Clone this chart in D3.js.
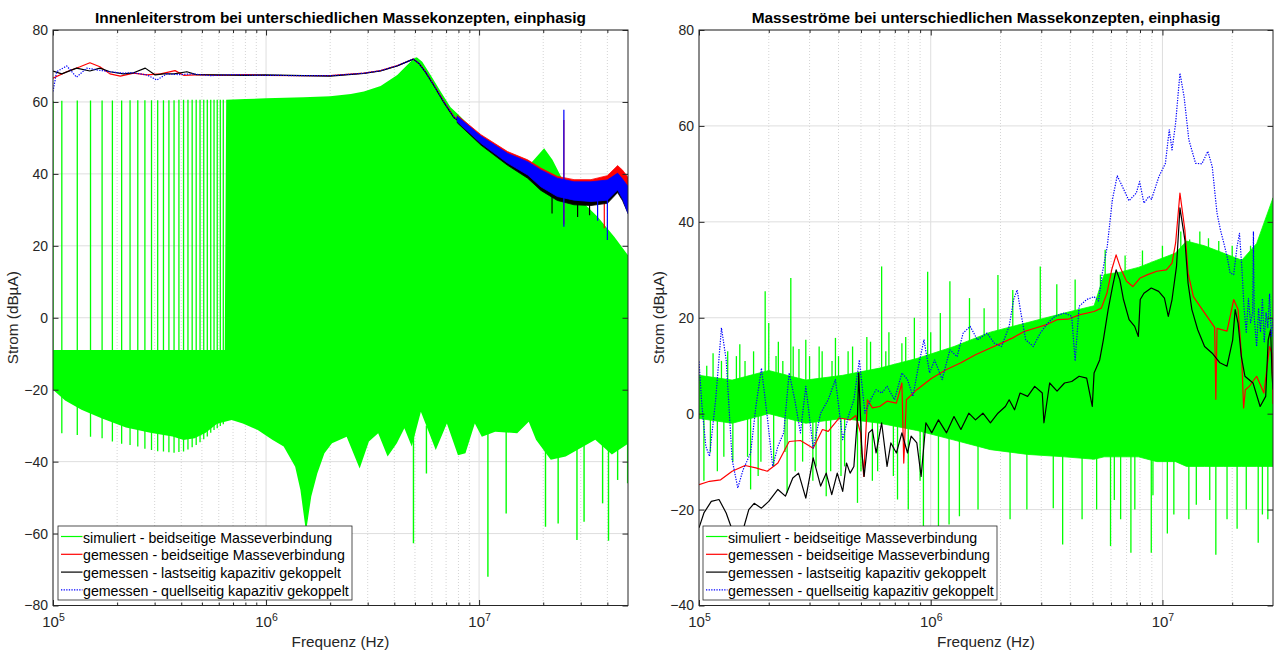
<!DOCTYPE html>
<html>
<head>
<meta charset="utf-8">
<script src="https://cdn.jsdelivr.net/npm/d3@7"></script>
<style>
  body { margin: 0; background: #fff; }
  svg text { font-family: "Liberation Sans", Arial, Helvetica, sans-serif; fill: #262626; }
</style>
</head>
<body>
<svg id="chart" width="1277" height="653"></svg>
<script>
// ---------- linkes Diagramm: Innenleiterstrom ----------
// simuliert: Kammlinien bei niedrigen Frequenzen [f, unten, oben]
const innerSimComb = [
  [1.0e5, -20, 60.3], [1.1e5, -32.1, 60.3], [1.3e5, -32.6, 60.4], [1.5e5, -33.1, 60.4],
  [1.7e5, -33.5, 60.4], [1.9e5, -34.4, 60.4], [2.1e5, -35, 60.4], [2.3e5, -35.4, 60.5],
  [2.5e5, -35.8, 60.5], [2.7e5, -36.4, 60.5], [2.9e5, -36.8, 60.5], [3.1e5, -37.1, 60.5],
  [3.3e5, -37.2, 60.5], [3.5e5, -37.4, 60.5], [3.7e5, -37.5, 60.5], [3.9e5, -37.3, 60.6],
  [4.1e5, -37.2, 60.6], [4.3e5, -36.6, 60.6], [4.5e5, -36, 60.6], [4.7e5, -35.4, 60.6],
  [4.9e5, -34.6, 60.6], [5.1e5, -33.8, 60.6], [5.3e5, -33, 60.6], [5.5e5, -32, 60.6],
  [5.7e5, -31.2, 60.6], [5.9e5, -30.7, 60.6], [6.1e5, -30.1, 60.6], [6.3e5, -29.6, 60.6]
];
// simuliert: obere und untere Huellkurve des dichten Spektrums [f, dBuA]
const innerSimUpper = [
  [1.0e5, -9], [6.4e5, -9], [6.5e5, 60.6], [8e5, 60.8], [1e6, 61.0], [1.5e6, 61.3],
  [2.0e6, 61.6], [2.5e6, 62.2], [2.88e6, 62.9], [3.45e6, 64.4], [4.13e6, 67.5], [4.6e6, 70.3],
  [4.94e6, 72.1], [5.1e6, 72.4], [5.41e6, 71.2], [5.92e6, 67.5], [6.6e6, 62.9], [7.35e6, 58.5],
  [7.9e6, 56.8], [1e7, 50.8], [1.17e7, 46.5], [1.36e7, 43], [1.57e7, 41], [1.72e7, 42.5],
  [2.02e7, 47.1], [2.21e7, 43.9], [2.47e7, 38.3], [3.0e7, 32.7], [3.6e7, 28.1], [4.31e7, 22.5],
  [5e7, 17.4]
];
const innerSimLower = [
  [1.0e5, -20], [1.14e5, -23], [1.36e5, -25.6], [1.7e5, -28], [2.2e5, -30.5], [2.86e5, -32],
  [3.64e5, -33], [4.1e5, -34], [4.62e5, -33.5], [5.21e5, -32], [5.89e5, -29.5], [6.9e5, -28.4],
  [7.78e5, -29.4], [9.14e5, -31.2], [1.07e6, -33.9], [1.21e6, -35.8], [1.37e6, -41.4],
  [1.45e6, -47.9], [1.54e6, -59.5], [1.63e6, -49.7], [1.74e6, -43.3], [1.88e6, -37.7],
  [2.04e6, -34.9], [2.39e6, -33.1], [2.75e6, -41.9], [3.04e6, -34.4], [3.36e6, -32.1],
  [3.72e6, -38.6], [4.11e6, -34.9], [4.46e6, -30.7], [4.83e6, -35.8], [5.33e6, -26.1],
  [6.26e6, -36.8], [7.06e6, -29.4], [7.96e6, -38.2], [8.63e6, -37.7], [9.55e6, -29.4],
  [1.03e7, -33.1], [1.19e7, -31.7], [1.51e7, -32.1], [1.71e7, -28.9], [1.85e7, -33.9],
  [2.17e7, -39.5], [2.55e7, -38.6], [3.51e7, -33.9], [4.2e7, -38], [5e7, -35]
];
// simuliert: schmale Einbrueche nach unten [f, unten, oben]
const innerSimNotches = [
  [4.92e6, -62.7, -30], [5.66e6, -43.3, -30], [1.1e7, -72.0, -30], [1.34e7, -54.4, -30],
  [2.05e7, -58.1, -30], [2.35e7, -57.2, -30], [2.88e7, -61.8, -30], [3.11e7, -56.7, -30],
  [3.8e7, -51.6, -30], [4.05e7, -62, -30], [4.47e7, -45.1, -30], [4.98e7, -46, -30]
];

// gemessen - beidseitige Masseverbindung
const innerRed = [
  [1.0e5, 66.6], [1.16e5, 68.4], [1.34e5, 69.8], [1.49e5, 70.9], [1.66e5, 69.8], [1.85e5, 67.8],
  [2.07e5, 67.2], [2.39e5, 68.0], [2.76e5, 67.5], [3.2e5, 67.8], [3.74e5, 68.7], [4.1e5, 67.4],
  [5e5, 67.6], [6e5, 67.4], [8e5, 67.6], [1e6, 67.4], [1.5e6, 67.3], [2e6, 67.3], [2.88e6, 68.0],
  [3.45e6, 68.7], [4.13e6, 70.1], [4.6e6, 71.2], [4.91e6, 71.9], [5.22e6, 70.7], [5.61e6, 68.4],
  [6.14e6, 64.7], [6.84e6, 60.1], [7.62e6, 55.9], [7.9e6, 55.2]
];
const innerRedBand = [
  [7.9e6, 54.8, 56.3], [1.02e7, 48.8, 50.9], [1.36e7, 43.5, 46.2], [1.69e7, 40, 43.9],
  [1.95e7, 37, 41.6], [2.33e7, 34, 39.3], [2.79e7, 33, 38.4], [3.35e7, 33, 38.4],
  [4.0e7, 34, 39.5], [4.47e7, 37, 42.3], [4.72e7, 36, 41], [5e7, 33, 39]
];
const innerRedSpikes = [[2.5e7, 26, 55], [3.87e7, 24.9, 34]];

// gemessen - lastseitig kapazitiv gekoppelt
const innerBlack = [
  [1.0e5, 68.6], [1.1e5, 67.8], [1.29e5, 69.4], [1.49e5, 68.6], [1.66e5, 69.4], [1.85e5, 68.4],
  [2.14e5, 67.8], [2.39e5, 68.1], [2.71e5, 69.4], [3.02e5, 67.5], [3.3e5, 67.8], [3.7e5, 67.8],
  [4.25e5, 68.4], [4.7e5, 67.6], [6e5, 67.5], [8e5, 67.4], [1e6, 67.5], [1.5e6, 67.3], [2e6, 67.2],
  [2.88e6, 67.9], [3.45e6, 68.6], [4.13e6, 70.0], [4.6e6, 71.2], [4.91e6, 71.9], [5.22e6, 70.7],
  [5.61e6, 68.2], [6.14e6, 64.5], [6.84e6, 59.8], [7.62e6, 55.6], [7.9e6, 55]
];
const innerBlackBand = [
  [7.9e6, 54.2, 55.8], [1.02e7, 48, 50], [1.36e7, 42.4, 45], [1.69e7, 38.8, 42.5],
  [1.95e7, 35.4, 40.5], [2.33e7, 32.6, 38], [2.79e7, 31.4, 37], [3.35e7, 31.2, 37],
  [4.0e7, 31.8, 38], [4.47e7, 34.8, 40], [4.72e7, 32.5, 38], [5e7, 29, 36]
];
const innerBlackSpikes = [[2.2e7, 29, 35], [2.9e7, 28, 33], [3.3e7, 28.5, 33]];

// gemessen - quellseitig kapazitiv gekoppelt
const innerBlue = [
  [1.0e5, 62.9], [1.04e5, 68.4], [1.16e5, 70.0], [1.29e5, 66.9], [1.44e5, 69.4], [1.61e5, 68.9],
  [1.85e5, 68.4], [2.1e5, 68.0], [2.39e5, 68.1], [2.76e5, 67.5], [3.07e5, 66.1], [3.42e5, 67.8],
  [3.9e5, 67.6], [4.5e5, 67.8], [5.5e5, 67.3], [7e5, 67.6], [1e6, 67.4], [1.5e6, 67.3], [2e6, 67.3],
  [2.88e6, 68.0], [3.45e6, 68.7], [4.13e6, 70.1], [4.6e6, 71.2], [4.91e6, 71.9], [5.22e6, 70.7],
  [5.61e6, 68.3], [6.14e6, 64.6], [6.84e6, 60.0], [7.62e6, 55.8], [7.9e6, 55.1]
];
const innerBlueBand = [
  [7.9e6, 54.5, 56], [1.02e7, 48.5, 50.5], [1.36e7, 43, 45.7], [1.69e7, 39.7, 43.4],
  [1.95e7, 36.4, 41.1], [2.33e7, 33.7, 38.8], [2.79e7, 32.7, 37.8], [3.35e7, 32.3, 37.8],
  [4.0e7, 32.7, 38.3], [4.47e7, 35.5, 40.2], [4.72e7, 33, 38.5], [5e7, 29, 36.5]
];
const innerBlueSpikes = [[2.5e7, 25.3, 57.8], [4.0e7, 21.6, 33], [3.6e7, 27, 33]];

// ---------- rechtes Diagramm: Massestroeme ----------
// simuliert: dichter Kern [f, unten, oben] und einzelne Ausreisser [f, unten, oben]
const massSimCore = [
  [1.0e5, -1, 8], [1.39e5, -2, 7], [2.0e5, 0, 9], [2.89e5, -2, 7], [4.17e5, -1, 8],
  [6.02e5, -2, 9.5], [8.71e5, -3.5, 11.5], [1.26e6, -5.5, 14], [1.81e6, -7.5, 17], [2.62e6, -8.5, 19],
  [3.78e6, -9, 21], [5.07e6, -9.5, 22.5], [5.6e6, -9, 29], [6.55e6, -9, 29.5], [7.87e6, -9, 30.5],
  [9.46e6, -10, 32], [1.14e7, -10, 33.5], [1.27e7, -11, 36], [1.52e7, -11, 35],
  [1.83e7, -11, 33.5], [2.2e7, -11, 32], [2.55e7, -11, 35.5], [3.0e7, -11, 45]
];
const massSimSpikes = [
  [1.05e5, -14, 0], [1.08e5, 0, 10], [1.12e5, -8, 0], [1.15e5, 0, 12.6], [1.2e5, -12, 0],
  [1.25e5, 0, 11], [1.28e5, -9, 0], [1.33e5, 0, 13], [1.4e5, -10, 0], [1.45e5, 0, 12],
  [1.5e5, 0, 14.5], [1.58e5, 0, 11], [1.62e5, -9, 0], [1.67e5, -15.8, 0], [1.72e5, 0, 13],
  [1.8e5, -13, 0], [1.85e5, -10, 0], [1.93e5, 0, 25.5], [2.0e5, 0, 18.9], [2.1e5, -11, 0],
  [2.15e5, 0, 12], [2.2e5, 0, 15], [2.3e5, 0, 11], [2.35e5, -8, 0], [2.4e5, -16.5, 0],
  [2.49e5, 0, 28.3], [2.55e5, 0, 14], [2.6e5, -12, 0], [2.7e5, 0, 13.5], [2.8e5, -10, 0],
  [2.89e5, 0, 15.4], [3.0e5, 0, 12], [3.1e5, -14, 0], [3.2e5, -11, 0], [3.3e5, 0, 14],
  [3.4e5, 0, 13], [3.54e5, -17.2, 0], [3.7e5, -12, 0], [3.75e5, 0, 11], [3.88e5, 0, 15.8],
  [4.0e5, 0, 12], [4.1e5, -13, 0], [4.25e5, -11, 0], [4.4e5, 0, 13], [4.6e5, 0, 14],
  [4.83e5, -18.6, 0], [5.0e5, -12, 0], [5.3e5, 0, 16], [5.5e5, 0, 15], [5.6e5, -14, 0],
  [5.9e5, -12, 0], [6.14e5, 0, 30.7], [6.4e5, 0, 13], [6.6e5, 0, 17], [6.9e5, -13, 0],
  [7.19e5, -17.9, 0], [7.51e5, 0, 14.7], [7.8e5, 0, 16], [8.0e5, -20, 0], [8.5e5, 0, 20],
  [9.0e5, -14, 0], [9.3e5, -28.3, 0], [9.7e5, 0, 29.6], [1.0e6, 0, 17], [1.08e6, -23.5, 0],
  [1.1e6, 0, 21], [1.2e6, -23.1, 0], [1.21e6, 0, 27.6], [1.33e6, -21.4, 0], [1.47e6, 0, 24.1],
  [1.6e6, -20, 0], [1.7e6, 0, 22], [1.95e6, 0, 28.9], [2.2e6, -22, 0], [2.26e6, 0, 25.8],
  [2.6e6, -20, 0], [2.97e6, 0, 30.7], [3.38e6, -19.7, 0], [3.5e6, 0, 27], [3.71e6, -27.3, 0],
  [4.2e6, 0, 28], [4.5e6, -22, 0], [5.2e6, -20, 0], [5.4e6, 0, 29], [5.66e6, 0, 34.2],
  [5.97e6, -27.6, 0], [6.2e6, -18, 0], [6.6e6, -22, 0], [6.9e6, 0, 33], [7.31e6, -29.0, 0],
  [7.6e6, -20, 0], [8.2e6, 0, 34], [8.95e6, -29, 0], [9.1e6, -17, 0], [1.0e7, 0, 35],
  [1.05e7, -25, 0], [1.12e7, -21, 0], [1.2e7, 0, 38], [1.3e7, -22, 0], [1.31e7, 0, 36.3],
  [1.4e7, -19, 0], [1.45e7, 0, 38], [1.58e7, 0, 36.6], [1.6e7, -18, 0], [1.7e7, -29.4, 0],
  [1.75e7, 0, 36], [1.9e7, -22, 0], [2.0e7, 0, 35], [2.1e7, -24, 0], [2.3e7, -20, 0],
  [2.4e7, 0, 35], [2.59e7, -26.9, 0], [2.7e7, -21, 0], [2.8e7, 0, 40], [2.85e7, -22, 0]
];

const massRed = [
  [1.0e5, -14.8], [1.11e5, -14.1], [1.24e5, -13.8], [1.39e5, -12.0], [1.58e5, -10.8], [1.76e5, -11.3],
  [1.97e5, -12.0], [2.19e5, -10.3], [2.45e5, -5.8], [2.74e5, -5.6], [3.11e5, -7.2], [3.41e5, -3.3],
  [3.61e5, -3.7], [4.03e5, -0.9], [4.49e5, -1.3], [4.75e5, -0.4], [4.98e5, -4.0], [5.14e5, -13.1],
  [5.33e5, 2.9], [5.6e5, 1.2], [6.02e5, 1.5], [6.48e5, 2.6], [7.11e5, 2.2], [7.51e5, 6.4],
  [7.65e5, -10.3], [7.85e5, 2.9], [8.71e5, 5.0], [1.01e6, 7.4], [1.17e6, 9.2], [1.35e6, 10.6],
  [1.56e6, 12.3], [1.81e6, 13.7], [2.02e6, 14.7], [2.26e6, 15.8], [2.52e6, 17.1], [2.81e6, 17.8],
  [3.14e6, 18.5], [3.51e6, 19.6], [3.92e6, 19.7], [4.37e6, 20.6], [5.07e6, 21.3], [5.45e6, 22.0],
  [5.76e6, 25.1], [6.04e6, 30.0], [6.31e6, 33.1], [6.6e6, 30.3], [7.0e6, 27.6], [7.45e6, 26.5],
  [8.02e6, 28.3], [8.63e6, 29.0], [9.46e6, 29.7], [1.04e7, 30.0], [1.1e7, 31.4], [1.14e7, 35.6],
  [1.19e7, 46.0], [1.25e7, 38.3], [1.29e7, 29.3], [1.36e7, 24.4], [1.52e7, 21.0], [1.68e7, 18],
  [1.7e7, 3], [1.72e7, 17.8], [1.9e7, 17.2], [2.03e7, 23.8], [2.12e7, 21.7], [2.2e7, 11.3],
  [2.24e7, 1.2], [2.28e7, 5.0], [2.37e7, 5.7], [2.55e7, 7.8], [2.74e7, 4.3], [2.9e7, 14.0],
  [2.97e7, 12.6], [3.0e7, 2]
];

const massBlack = [
  [1.0e5, -23.8], [1.05e5, -20.7], [1.13e5, -18.3], [1.22e5, -17.9], [1.31e5, -20.7], [1.39e5, -24.2],
  [1.47e5, -27.6], [1.55e5, -24.2], [1.64e5, -20.0], [1.73e5, -18.7], [1.86e5, -19.7], [2.0e5, -18.3],
  [2.19e5, -15.8], [2.36e5, -17.2], [2.54e5, -13.4], [2.69e5, -12.4], [2.89e5, -17.6], [3.11e5, -9.2],
  [3.35e5, -15.1], [3.54e5, -12.4], [3.74e5, -16.9], [3.95e5, -12.4], [4.17e5, -16.2], [4.33e5, -10.3],
  [4.49e5, -12.4], [4.66e5, -11.0], [4.83e5, -0.6], [4.89e5, 8.5], [5.05e5, -8.2], [5.16e5, -13.1],
  [5.4e5, -4.0], [5.6e5, -3.3], [5.81e5, -8.2], [6.14e5, -1.9], [6.48e5, -11.0], [6.73e5, -6.1],
  [7.11e5, -8.2], [7.51e5, -4.0], [7.94e5, -8.2], [8.23e5, -4.7], [8.71e5, -6.1], [9.09e5, -13.1],
  [9.53e5, -1.9], [1.01e6, -4.0], [1.08e6, -1.3], [1.17e6, -4.0], [1.26e6, -0.6], [1.35e6, -3.3],
  [1.46e6, 0.1], [1.56e6, -1.3], [1.68e6, 0.1], [1.81e6, -1.9], [1.95e6, 0.1], [2.1e6, 1.5],
  [2.18e6, 2.9], [2.3e6, 0.8], [2.43e6, 4.3], [2.62e6, 3.6], [2.81e6, 5.7], [3.03e6, 4.3],
  [3.08e6, -1.9], [3.26e6, 6.4], [3.51e6, 4.7], [3.78e6, 6.4], [4.06e6, 6.7], [4.37e6, 7.8],
  [4.71e6, 7.4], [4.98e6, 1.5], [5.07e6, 8.5], [5.36e6, 11.2], [5.56e6, 15.4], [5.83e6, 21.7],
  [6.09e6, 26.5], [6.31e6, 30.0], [6.55e6, 27.9], [6.79e6, 23.8], [7.18e6, 19.6], [7.59e6, 18.2],
  [7.87e6, 16.1], [8.02e6, 23.8], [8.32e6, 25.1], [8.95e6, 26.2], [9.63e6, 25.5], [1.02e7, 24.1],
  [1.06e7, 20.3], [1.1e7, 23.8], [1.15e7, 30.7], [1.19e7, 42.9], [1.25e7, 36.2], [1.29e7, 27.2],
  [1.34e7, 21.7], [1.42e7, 17.5], [1.52e7, 14.0], [1.64e7, 12.6], [1.77e7, 10.6], [1.9e7, 9.9],
  [2.01e7, 15.4], [2.06e7, 21.7], [2.12e7, 18.9], [2.19e7, 11.9], [2.27e7, 7.8], [2.46e7, 6.4],
  [2.64e7, 1.5], [2.79e7, 3.6], [2.86e7, 15.4], [2.93e7, 17.5], [2.97e7, 8.5], [3.0e7, 5]
];

const massBlue = [
  [1.0e5, 10.9], [1.03e5, 1.5], [1.07e5, -6.8], [1.11e5, -8.9], [1.18e5, 2.9], [1.25e5, 17.9],
  [1.31e5, 11.2], [1.39e5, -9.6], [1.47e5, -15.5], [1.55e5, -11.7], [1.67e5, -8.2], [1.76e5, 1.5],
  [1.86e5, 9.5], [1.97e5, -0.6], [2.08e5, -11.0], [2.19e5, -6.8], [2.32e5, -4.0], [2.45e5, 8.5],
  [2.59e5, 2.9], [2.74e5, -4.0], [2.89e5, 5.7], [3.11e5, -7.2], [3.35e5, 0.1], [3.61e5, 2.9],
  [3.88e5, 7.1], [4.17e5, -5.4], [4.41e5, -0.6], [4.66e5, 2.9], [4.92e5, 11.2], [5.2e5, 0.1],
  [5.5e5, 2.9], [5.81e5, 5.0], [6.14e5, 4.3], [6.48e5, 5.7], [6.98e5, 2.9], [7.51e5, 8.5],
  [7.94e5, 7.1], [8.38e5, 3.6], [8.85e5, 9.9], [9.35e5, 15.4], [9.89e5, 8.5], [1.04e6, 11.2],
  [1.12e6, 7.1], [1.21e6, 13.3], [1.3e6, 11.9], [1.38e6, 16.8], [1.48e6, 18.2], [1.59e6, 15.4],
  [1.75e6, 16.8], [1.88e6, 14.7], [2.02e6, 14.0], [2.18e6, 18.2], [2.28e6, 23.8], [2.36e6, 25.8],
  [2.45e6, 21.0], [2.57e6, 15.4], [2.77e6, 14.0], [2.97e6, 16.8], [3.2e6, 18.9], [3.44e6, 20.3],
  [3.78e6, 21.0], [4.06e6, 20.3], [4.2e6, 11], [4.37e6, 22.4], [4.71e6, 23.8], [5.07e6, 24.4],
  [5.3e6, 23.5], [5.5e6, 29.3], [5.78e6, 34.9], [6.08e6, 44.6], [6.38e6, 49.6], [6.71e6, 47.4],
  [7.17e6, 44.4], [7.71e6, 46.0], [7.97e6, 48.4], [8.32e6, 43.9], [8.74e6, 45.3], [8.97e6, 44.7],
  [9.65e6, 49.4], [1.03e7, 52.2], [1.07e7, 59.2], [1.1e7, 55], [1.14e7, 60.6], [1.19e7, 71.0],
  [1.24e7, 66.1], [1.3e7, 57.1], [1.39e7, 52.2], [1.48e7, 52.1], [1.57e7, 54.7], [1.64e7, 51.5],
  [1.72e7, 41.8], [1.78e7, 38.3], [1.84e7, 35.6], [1.9e7, 32.8], [1.96e7, 29.3], [2.03e7, 29.0],
  [2.1e7, 34.9], [2.15e7, 37.6], [2.2e7, 30.7], [2.25e7, 22], [2.3e7, 17], [2.35e7, 24],
  [2.4e7, 19], [2.45e7, 21], [2.47e7, 38], [2.49e7, 20], [2.55e7, 14], [2.6e7, 22], [2.65e7, 17],
  [2.7e7, 24], [2.75e7, 15], [2.8e7, 21], [2.85e7, 18], [2.9e7, 25], [2.95e7, 16], [3.0e7, 20]
];

const legendLabels = [
  "simuliert - beidseitige Masseverbindung",
  "gemessen - beidseitige Masseverbindung",
  "gemessen - lastseitig kapazitiv gekoppelt",
  "gemessen - quellseitig kapazitiv gekoppelt"
];
const innerTicks = [-80, -60, -40, -20, 0, 20, 40, 60, 80];
const massTicks = [-40, -20, 0, 20, 40, 60, 80];
const decadeTicks = [1e5, 1e6, 1e7];

const GREEN = "#00ff00", RED = "#ff0000", BLACK = "#000000", BLUE = "#0000ff";
const AXIS = "#262626";
const DOT = "1.3,1.3";

const svg = d3.select("#chart");
const defs = svg.append("defs");

function spikes(g, x, y, data, color, width) {
  g.append("g").selectAll("line").data(data).join("line")
    .attr("x1", d => x(d[0])).attr("x2", d => x(d[0]))
    .attr("y1", d => y(d[1])).attr("y2", d => y(d[2]))
    .attr("stroke", color).attr("stroke-width", width);
}

function band(g, x, y, data, color) {
  const area = d3.area().x(d => x(d[0])).y0(d => y(d[1])).y1(d => y(d[2]));
  g.append("path").datum(data).attr("d", area)
    .attr("fill", color).attr("stroke", color).attr("stroke-width", 0.8);
}

function trace(g, x, y, data, color, dash) {
  const line = d3.line().x(d => x(d[0])).y(d => y(d[1]));
  g.append("path").datum(data).attr("d", line)
    .attr("fill", "none").attr("stroke", color).attr("stroke-width", 1.2)
    .attr("stroke-linejoin", "round")
    .attr("stroke-dasharray", dash || null);
}

function outline(g, x, y, upper, lower, color) {
  const line = d3.line().x(d => x(d[0])).y(d => y(d[1]));
  g.append("path").attr("d", line(upper.concat(lower.slice().reverse())) + "Z")
    .attr("fill", color);
}

function drawPanel(cfg) {
  const g = svg.append("g");
  const x = d3.scaleLog().domain(cfg.xDomain).range([cfg.left, cfg.right]);
  const y = d3.scaleLinear().domain(cfg.yDomain).range([cfg.bottom, cfg.top]);
  const w = cfg.right - cfg.left, h = cfg.bottom - cfg.top;

  const minor = [];
  decadeTicks.forEach(dec => {
    for (let k = 2; k <= 9; k++) if (dec * k < cfg.xDomain[1]) minor.push(dec * k);
  });

  // Gitter
  g.append("g").selectAll("line").data(minor).join("line")
    .attr("x1", d => x(d)).attr("x2", d => x(d))
    .attr("y1", cfg.top).attr("y2", cfg.bottom)
    .attr("stroke", "#d4d4d4").attr("stroke-dasharray", "1,2");
  g.append("g").selectAll("line").data(decadeTicks).join("line")
    .attr("x1", d => x(d)).attr("x2", d => x(d))
    .attr("y1", cfg.top).attr("y2", cfg.bottom)
    .attr("stroke", "#dedede");
  g.append("g").selectAll("line").data(cfg.yTicks).join("line")
    .attr("x1", cfg.left).attr("x2", cfg.right)
    .attr("y1", d => y(d)).attr("y2", d => y(d))
    .attr("stroke", "#dedede");

  // Daten
  defs.append("clipPath").attr("id", cfg.id + "-clip")
    .append("rect").attr("x", cfg.left).attr("y", cfg.top).attr("width", w).attr("height", h);
  const plot = g.append("g").attr("clip-path", `url(#${cfg.id}-clip)`);
  cfg.draw(plot, x, y);

  // Achsen
  const bottom = g.append("g").attr("transform", `translate(0,${cfg.bottom})`).attr("color", AXIS)
    .call(d3.axisBottom(x).tickValues(decadeTicks).tickSize(-5.5).tickPadding(11).tickFormat(() => "10"));
  bottom.select(".domain").remove();
  bottom.selectAll("text").attr("font-size", 15)
    .append("tspan").attr("dy", "-0.55em").attr("font-size", 10.5)
    .text(d => Math.round(Math.log10(d)));
  g.append("g").attr("transform", `translate(0,${cfg.bottom})`).attr("color", AXIS)
    .call(d3.axisBottom(x).tickValues(minor).tickSize(-3).tickFormat(""))
    .select(".domain").remove();
  g.append("g").attr("transform", `translate(0,${cfg.top})`).attr("color", AXIS)
    .call(d3.axisTop(x).tickValues(decadeTicks).tickSize(-5.5).tickFormat(""))
    .select(".domain").remove();
  g.append("g").attr("transform", `translate(0,${cfg.top})`).attr("color", AXIS)
    .call(d3.axisTop(x).tickValues(minor).tickSize(-3).tickFormat(""))
    .select(".domain").remove();

  const left = g.append("g").attr("transform", `translate(${cfg.left},0)`).attr("color", AXIS)
    .call(d3.axisLeft(y).tickValues(cfg.yTicks).tickSize(-5.5).tickPadding(5));
  left.select(".domain").remove();
  left.selectAll("text").attr("font-size", 14);
  g.append("g").attr("transform", `translate(${cfg.right},0)`).attr("color", AXIS)
    .call(d3.axisRight(y).tickValues(cfg.yTicks).tickSize(-5.5).tickFormat(""))
    .select(".domain").remove();

  g.append("rect").attr("x", cfg.left).attr("y", cfg.top).attr("width", w).attr("height", h)
    .attr("fill", "none").attr("stroke", AXIS).attr("stroke-width", 1);

  // Beschriftung
  const cx = (cfg.left + cfg.right) / 2;
  g.append("text").attr("x", cx).attr("y", 23).attr("text-anchor", "middle")
    .attr("font-size", 15.4).attr("font-weight", "bold").style("fill", "#000").text(cfg.title);
  g.append("text").attr("x", cx).attr("y", 647).attr("text-anchor", "middle")
    .attr("font-size", 15.3).text("Frequenz (Hz)");
  g.append("text").attr("transform", `translate(${cfg.left - 35},${(cfg.top + cfg.bottom) / 2}) rotate(-90)`)
    .attr("text-anchor", "middle").attr("font-size", 15.3).text("Strom (dBµA)");

  // Legende
  const lg = g.append("g").attr("transform", `translate(${cfg.left + cfg.legendDx},526)`);
  lg.append("rect").attr("width", 294).attr("height", 74)
    .attr("fill", "#fff").attr("stroke", AXIS).attr("stroke-width", 0.8);
  const styles = [[GREEN, null], [RED, null], [BLACK, null], [BLUE, DOT]];
  legendLabels.forEach((label, i) => {
    const ly = 16.5 + i * 17.8;
    lg.append("line").attr("x1", 3).attr("x2", 24.5).attr("y1", ly - 6).attr("y2", ly - 6)
      .attr("stroke", styles[i][0]).attr("stroke-width", 1.2)
      .attr("stroke-dasharray", styles[i][1]);
    lg.append("text").attr("x", 25).attr("y", ly).attr("font-size", 14.2).style("fill", "#000").text(label);
  });
}

drawPanel({
  id: "inner",
  left: 53, right: 628, top: 30, bottom: 605.5,
  xDomain: [1e5, 5e7], yDomain: [-80, 80], yTicks: innerTicks,
  legendDx: 5,
  title: "Innenleiterstrom bei unterschiedlichen Massekonzepten, einphasig",
  draw(g, x, y) {
    outline(g, x, y, innerSimUpper, innerSimLower, GREEN);
    spikes(g, x, y, innerSimComb, GREEN, 1.3);
    spikes(g, x, y, innerSimNotches, GREEN, 1.4);
    band(g, x, y, innerRedBand, RED);
    trace(g, x, y, innerRed, RED);
    spikes(g, x, y, innerRedSpikes, RED, 1.2);
    band(g, x, y, innerBlackBand, BLACK);
    trace(g, x, y, innerBlack, BLACK);
    spikes(g, x, y, innerBlackSpikes, BLACK, 1.2);
    band(g, x, y, innerBlueBand, BLUE);
    trace(g, x, y, innerBlue, BLUE, DOT);
    spikes(g, x, y, innerBlueSpikes, BLUE, 1.2);
  }
});

drawPanel({
  id: "mass",
  left: 699, right: 1273, top: 30, bottom: 605.5,
  xDomain: [1e5, 3e7], yDomain: [-40, 80], yTicks: massTicks,
  legendDx: 4,
  title: "Masseströme bei unterschiedlichen Massekonzepten, einphasig",
  draw(g, x, y) {
    band(g, x, y, massSimCore, GREEN);
    spikes(g, x, y, massSimSpikes, GREEN, 1.3);
    trace(g, x, y, massRed, RED);
    trace(g, x, y, massBlack, BLACK);
    trace(g, x, y, massBlue, BLUE, DOT);
  }
});
</script>
</body>
</html>
